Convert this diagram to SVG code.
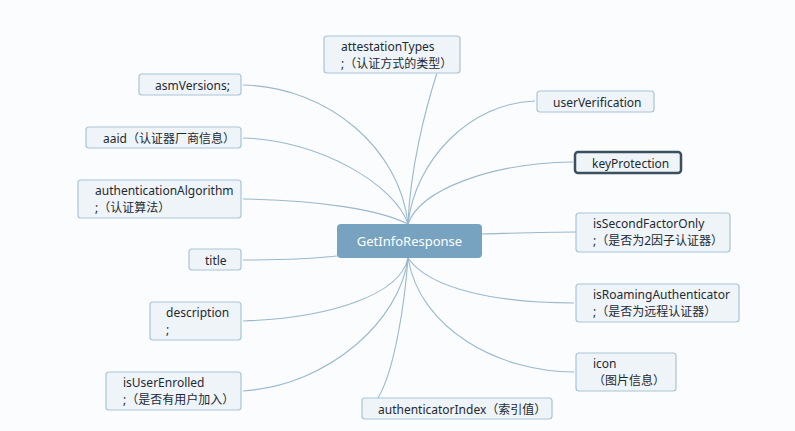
<svg xmlns="http://www.w3.org/2000/svg" width="795" height="431" viewBox="0 0 795 431">
<style>
.bg{fill:#fbfcfd}
.n rect{fill:#eef4f8;stroke:#a9c4d8;stroke-width:1.2}
.n text{font-family:"Noto Sans","Noto Sans CJK SC",sans-serif;font-size:12px;fill:#1e2a33}
.sel rect{stroke:#3b4f5e;stroke-width:2.5}
.root rect{fill:#77a3c1;stroke:none}
.root text{font-family:"Noto Sans","Noto Sans CJK SC",sans-serif;font-size:13px;fill:#ffffff}
#connectors path{fill:none;stroke:#9ab8ce;stroke-width:1.1}
</style>
<rect class="bg" x="0" y="0" width="795" height="431"/>
<g id="connectors">
<path d="M243,85 C330,87 400,150 408,224"/>
<path d="M243,138 C320,140 395,185 408,224"/>
<path d="M243,199 C320,200 380,210 408,224"/>
<path d="M243,260 C290,260 320,258 337,256"/>
<path d="M243,321 C330,318 400,295 408,258"/>
<path d="M243,391 C330,385 400,320 408,258"/>
<path d="M378,398 C395,370 405,300 408,258"/>
<path d="M437,73 C425,110 410,170 408,224"/>
<path d="M535,101 C470,103 415,160 408,224"/>
<path d="M573,162 C490,163 420,190 408,224"/>
<path d="M482,234 C520,233 550,232 576,232"/>
<path d="M408,258 C430,290 500,303 574,303"/>
<path d="M408,258 C420,330 500,372 574,372"/>
</g>
<g id="root" class="root">
<rect x="337" y="224" width="145" height="34" rx="4"/>
<text x="409.5" y="246" text-anchor="middle">GetInfoResponse</text>
</g>
<g id="attestationTypes" class="n">
<rect x="324" y="36" width="136" height="37" rx="3"/>
<text x="341" y="51">attestationTypes</text>
<text x="341" y="68">;（认证方式的类型）</text>
</g>
<g id="asmVersions" class="n">
<rect x="139" y="74" width="102" height="21" rx="3"/>
<text x="155" y="90">asmVersions;</text>
</g>
<g id="aaid" class="n">
<rect x="86" y="127" width="155" height="21" rx="3"/>
<text x="103" y="143">aaid（认证器厂商信息）</text>
</g>
<g id="authenticationAlgorithm" class="n">
<rect x="78" y="180" width="163" height="38" rx="3"/>
<text x="95" y="195">authenticationAlgorithm</text>
<text x="95" y="212">;（认证算法）</text>
</g>
<g id="title" class="n">
<rect x="189" y="249" width="52" height="21" rx="3"/>
<text x="205" y="265">title</text>
</g>
<g id="description" class="n">
<rect x="150" y="302" width="91" height="38" rx="3"/>
<text x="166" y="317">description</text>
<text x="166" y="334">;</text>
</g>
<g id="isUserEnrolled" class="n">
<rect x="106" y="372" width="135" height="38" rx="3"/>
<text x="123" y="387">isUserEnrolled</text>
<text x="123" y="404">;（是否有用户加入）</text>
</g>
<g id="authenticatorIndex" class="n">
<rect x="362" y="398" width="190" height="21" rx="3"/>
<text x="378" y="414">authenticatorIndex（索引值）</text>
</g>
<g id="userVerification" class="n">
<rect x="537" y="91" width="117" height="21" rx="3"/>
<text x="553" y="107">userVerification</text>
</g>
<g id="keyProtection" class="n sel">
<rect x="575" y="152" width="106" height="21" rx="3"/>
<text x="592" y="168">keyProtection</text>
</g>
<g id="isSecondFactorOnly" class="n">
<rect x="576" y="213" width="154" height="39" rx="3"/>
<text x="593" y="228">isSecondFactorOnly</text>
<text x="593" y="245">;（是否为2因子认证器）</text>
</g>
<g id="isRoamingAuthenticator" class="n">
<rect x="576" y="284" width="163" height="38" rx="3"/>
<text x="593" y="299">isRoamingAuthenticator</text>
<text x="593" y="316">;（是否为远程认证器）</text>
</g>
<g id="icon" class="n">
<rect x="576" y="353" width="100" height="38" rx="3"/>
<text x="593" y="368">icon</text>
<text x="593" y="385">（图片信息）</text>
</g>
</svg>
